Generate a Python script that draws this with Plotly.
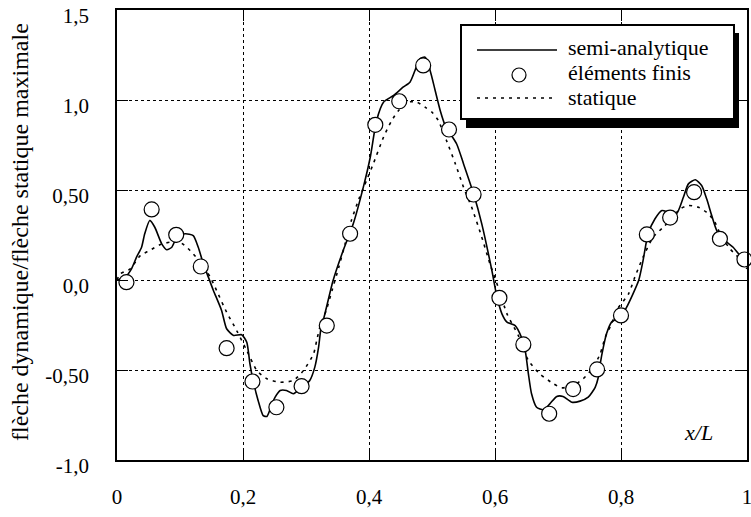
import plotly.graph_objects as go

# ---------------- data ----------------
semi_x = [0.000, 0.013, 0.023, 0.031, 0.039, 0.044, 0.052, 0.060, 0.071, 0.079, 0.087, 0.095, 0.108, 0.121,
          0.129, 0.137, 0.145, 0.153, 0.166, 0.174, 0.185, 0.198, 0.206, 0.211, 0.216, 0.224, 0.232, 0.238,
          0.246, 0.251, 0.259, 0.269, 0.280, 0.293, 0.306, 0.314, 0.320, 0.324, 0.328, 0.343, 0.359, 0.375,
          0.391, 0.402, 0.412, 0.423, 0.439, 0.454, 0.465, 0.473, 0.481, 0.489, 0.497, 0.505, 0.513, 0.521,
          0.539, 0.550, 0.566, 0.579, 0.595, 0.603, 0.611, 0.619, 0.632, 0.642, 0.648, 0.653, 0.658, 0.666,
          0.677, 0.687, 0.698, 0.708, 0.722, 0.735, 0.748, 0.759, 0.764, 0.767, 0.772, 0.777, 0.785, 0.801,
          0.809, 0.828, 0.835, 0.843, 0.854, 0.865, 0.875, 0.888, 0.899, 0.907, 0.918, 0.928, 0.936, 0.944,
          0.952, 0.965, 0.978, 0.989, 1.000]
semi_y = [0.00, 0.016, 0.062, 0.127, 0.182, 0.257, 0.331, 0.293, 0.201, 0.168, 0.182, 0.238, 0.257, 0.247,
          0.182, 0.090, 0.016, -0.058, -0.169, -0.271, -0.308, -0.304, -0.346, -0.466, -0.558, -0.669, -0.753,
          -0.758, -0.688, -0.651, -0.614, -0.614, -0.632, -0.596, -0.558, -0.484, -0.373, -0.262, -0.216,
          -0.003, 0.164, 0.312, 0.516, 0.682, 0.886, 0.988, 1.025, 1.071, 1.099, 1.164, 1.229, 1.238, 1.164,
          1.053, 0.942, 0.858, 0.757, 0.646, 0.479, 0.312, 0.053, -0.092, -0.188, -0.234, -0.253, -0.318,
          -0.392, -0.521, -0.632, -0.707, -0.721, -0.688, -0.647, -0.647, -0.679, -0.673, -0.651, -0.596,
          -0.540, -0.466, -0.373, -0.299, -0.234, -0.197, -0.151, -0.003, 0.108, 0.257, 0.340, 0.386, 0.377,
          0.368, 0.460, 0.534, 0.557, 0.525, 0.451, 0.358, 0.275, 0.219, 0.182, 0.136, 0.108]

stat_x = [0.000, 0.005, 0.021, 0.037, 0.052, 0.068, 0.084, 0.100, 0.116, 0.132, 0.148, 0.158, 0.174, 0.190,
          0.206, 0.222, 0.238, 0.259, 0.280, 0.296, 0.312, 0.317, 0.322, 0.332, 0.342, 0.352, 0.362, 0.372,
          0.384, 0.396, 0.407, 0.423, 0.436, 0.447, 0.462, 0.476, 0.489, 0.500, 0.510, 0.523, 0.537, 0.550,
          0.563, 0.579, 0.592, 0.605, 0.619, 0.637, 0.653, 0.671, 0.693, 0.706, 0.724, 0.740, 0.756, 0.767,
          0.775, 0.785, 0.793, 0.812, 0.822, 0.835, 0.851, 0.867, 0.878, 0.894, 0.907, 0.923, 0.939, 0.949,
          0.960, 0.973, 0.986, 1.000]
stat_y = [0.00, 0.034, 0.062, 0.136, 0.164, 0.196, 0.210, 0.210, 0.164, 0.099, 0.016, -0.058, -0.179, -0.281,
          -0.392, -0.503, -0.549, -0.568, -0.558, -0.503, -0.410, -0.336, -0.262, -0.170, -0.050, 0.070, 0.200,
          0.330, 0.450, 0.553, 0.647, 0.793, 0.886, 0.942, 0.988, 0.988, 0.960, 0.932, 0.886, 0.775, 0.646,
          0.516, 0.404, 0.238, 0.090, -0.040, -0.188, -0.308, -0.447, -0.521, -0.577, -0.599, -0.586, -0.549,
          -0.484, -0.410, -0.318, -0.243, -0.169, -0.077, 0.016, 0.127, 0.238, 0.293, 0.331, 0.396, 0.414,
          0.404, 0.368, 0.321, 0.238, 0.173, 0.127, 0.062]

fe_x = [0.015, 0.055, 0.094, 0.133, 0.174, 0.215, 0.253, 0.293, 0.333, 0.370, 0.410, 0.448, 0.486, 0.527,
        0.566, 0.607, 0.645, 0.686, 0.724, 0.762, 0.800, 0.841, 0.878, 0.916, 0.957, 0.996]
fe_y = [-0.012, 0.392, 0.251, 0.075, -0.379, -0.564, -0.707, -0.590, -0.253, 0.257, 0.862, 0.993, 1.192,
        0.836, 0.475, -0.099, -0.358, -0.743, -0.606, -0.497, -0.197, 0.253, 0.347, 0.488, 0.229, 0.114]

x_tickvals = [0, 0.2, 0.4, 0.6, 0.8, 1.0]
x_ticktext = ["0", "0,2", "0,4", "0,6", "0,8", "1"]
y_tickvals = [-1.0, -0.5, 0.0, 0.5, 1.0, 1.5]
y_ticktext = ["-1,0", "-0,50", "0,0", "0,50", "1,0", "1,5"]

legend_labels = ["semi-analytique", "éléments finis", "statique"]

# ---------------- figure ----------------
W, H = 751, 517
ML, MR, MT, MB = 117, 4, 10, 57
PW, PH = W - ML - MR, H - MT - MB
FONT = "Liberation Serif"


def px(x):
    return (x - ML) / PW


def py(y):
    return 1 - (y - MT) / PH


fig = go.Figure()
fig.add_trace(go.Scatter(x=stat_x, y=stat_y, mode="lines", name=legend_labels[2],
                         line=dict(color="black", width=1.6, dash="3px,5px", shape="spline", smoothing=0.6)))
fig.add_trace(go.Scatter(x=semi_x, y=semi_y, mode="lines", name=legend_labels[0],
                         line=dict(color="black", width=1.6, shape="spline", smoothing=0.6)))
fig.add_trace(go.Scatter(x=fe_x, y=fe_y, mode="markers", name=legend_labels[1], cliponaxis=False,
                         marker=dict(symbol="circle", size=15, color="white",
                                     line=dict(color="black", width=1.2))))

axis_common = dict(showline=True, linecolor="black", linewidth=1.5, mirror="ticks",
                   ticks="inside", ticklen=11, tickwidth=1.2, tickcolor="black",
                   showgrid=True, gridcolor="black", gridwidth=1, griddash="dot",
                   zeroline=False, ticklabeloverflow="allow", automargin=False,
                   tickfont=dict(family=FONT, size=21, color="black"))

fig.update_xaxes(range=[0, 1], tickvals=x_tickvals, ticktext=x_ticktext, ticklabelstandoff=17, **axis_common)
fig.update_yaxes(range=[-1, 1.5], tickvals=y_tickvals, ticktext=y_ticktext, ticklabelstandoff=22,
                 ticklabelshift=6, **axis_common)

shapes = []
# legend shadow and box
shapes.append(dict(type="rect", xref="paper", yref="paper", x0=px(466), x1=px(739), y0=py(128), y1=py(33),
                   fillcolor="black", line=dict(width=0), layer="above"))
shapes.append(dict(type="rect", xref="paper", yref="paper", x0=px(461), x1=px(734), y0=py(119), y1=py(25),
                   fillcolor="white", line=dict(color="black", width=2), layer="above"))
shapes.append(dict(type="line", xref="paper", yref="paper", x0=px(477), x1=px(557), y0=py(50), y1=py(50),
                   line=dict(color="black", width=1.6), layer="above"))
shapes.append(dict(type="circle", xref="paper", yref="paper", x0=px(512), x1=px(526), y0=py(82), y1=py(68),
                   line=dict(color="black", width=1.2), fillcolor="white", layer="above"))
shapes.append(dict(type="line", xref="paper", yref="paper", x0=px(477), x1=px(557), y0=py(98), y1=py(98),
                   line=dict(color="black", width=1.6, dash="3px,5px"), layer="above"))

annotations = []
for lbl, yy in zip(legend_labels, [48, 72.5, 97.5]):
    annotations.append(dict(text=lbl, xref="paper", yref="paper", x=px(566), y=py(yy), xanchor="left",
                            yanchor="middle", showarrow=False, font=dict(family=FONT, size=22, color="black")))
annotations.append(dict(text="flèche dynamique/flèche statique maximale", xref="paper", yref="paper",
                        x=px(20), y=py(232), textangle=-90, xanchor="center", yanchor="middle",
                        showarrow=False, font=dict(family=FONT, size=24, color="black")))
annotations.append(dict(text="<i>x/L</i>", xref="paper", yref="paper", x=px(698), y=py(432),
                        xanchor="center", yanchor="middle", showarrow=False,
                        font=dict(family=FONT, size=22, color="black")))

fig.update_layout(width=W, height=H, margin=dict(l=ML, r=MR, t=MT, b=MB, pad=0, autoexpand=False),
                  paper_bgcolor="white", plot_bgcolor="white", showlegend=False,
                  shapes=shapes, annotations=annotations)

fig.write_html("out.html")
